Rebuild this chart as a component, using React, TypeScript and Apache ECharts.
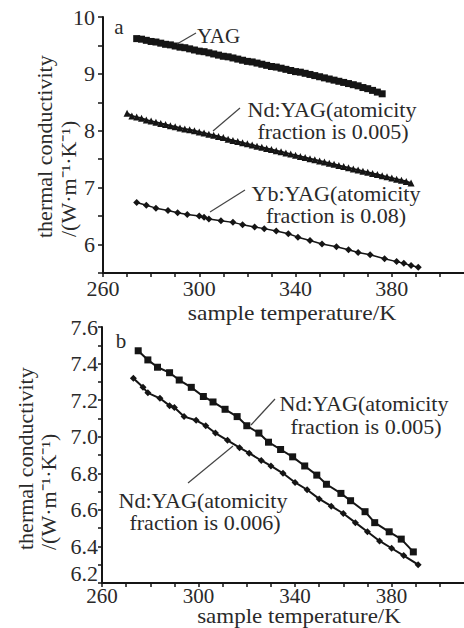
import React, { useEffect, useRef } from "react";
import * as echarts from "echarts";

// Panel a: thermal conductivity vs sample temperature
const yagA: number[][] = [
  [274, 9.62], [276, 9.61], [278, 9.59], [280, 9.57], [282, 9.56], [284, 9.54], [286, 9.52], [288, 9.51],
  [290, 9.49], [292, 9.47], [294, 9.46], [296, 9.44], [298, 9.42], [300, 9.40], [302, 9.39], [304, 9.37],
  [306, 9.35], [308, 9.33], [310, 9.31], [312, 9.30], [314, 9.28], [316, 9.26], [318, 9.24], [320, 9.22],
  [322, 9.21], [324, 9.19], [326, 9.17], [328, 9.15], [330, 9.13], [332, 9.12], [334, 9.10], [336, 9.08],
  [338, 9.06], [340, 9.04], [342, 9.03], [344, 9.01], [346, 8.99], [348, 8.97], [350, 8.95], [352, 8.93],
  [354, 8.91], [356, 8.89], [358, 8.87], [360, 8.85], [362, 8.83], [364, 8.81], [366, 8.79], [368, 8.76],
  [370, 8.74], [372, 8.71], [374, 8.68], [376, 8.65],
];
const ndA: number[][] = [
  [270, 8.31], [272, 8.26], [274, 8.24], [276, 8.22], [278, 8.19], [280, 8.17], [282, 8.15], [284, 8.13],
  [286, 8.11], [288, 8.09], [290, 8.07], [292, 8.05], [294, 8.03], [296, 8.02], [298, 8.00], [300, 7.98],
  [302, 7.96], [304, 7.94], [306, 7.92], [308, 7.90], [310, 7.88], [312, 7.85], [314, 7.83], [316, 7.81],
  [318, 7.79], [320, 7.77], [322, 7.75], [324, 7.73], [326, 7.71], [328, 7.69], [330, 7.67], [332, 7.65],
  [334, 7.63], [336, 7.61], [338, 7.59], [340, 7.57], [342, 7.55], [344, 7.53], [346, 7.51], [348, 7.49],
  [350, 7.47], [352, 7.45], [354, 7.43], [356, 7.41], [358, 7.39], [360, 7.37], [362, 7.35], [364, 7.33],
  [366, 7.31], [368, 7.29], [370, 7.27], [372, 7.25], [374, 7.23], [376, 7.21], [378, 7.19], [380, 7.17],
  [382, 7.15], [384, 7.13], [386, 7.11], [388, 7.08],
];
const ybA: number[][] = [
  [274, 6.74], [278, 6.69], [282, 6.64], [287, 6.60], [291, 6.56], [295, 6.53], [300, 6.50], [302, 6.48],
  [304, 6.45], [309, 6.42], [314, 6.39], [318, 6.35], [323, 6.31], [327, 6.28], [332, 6.24], [337, 6.19],
  [341, 6.13], [346, 6.07], [351, 6.01], [357, 5.96], [362, 5.91], [366, 5.86], [371, 5.82], [377, 5.75],
  [382, 5.70], [385, 5.67], [388, 5.63], [391, 5.60],
];

// Panel b
const nd005B: number[][] = [
  [275, 7.47], [279, 7.42], [283, 7.38], [288, 7.35], [292, 7.31], [297, 7.27], [302, 7.22], [306, 7.19],
  [311, 7.15], [316, 7.11], [320, 7.06], [325, 7.02], [329, 6.97], [334, 6.93], [339, 6.89], [344, 6.84],
  [349, 6.79], [353, 6.74], [359, 6.69], [363, 6.65], [369, 6.59], [373, 6.53], [379, 6.48], [384, 6.44],
  [389, 6.37],
];
const nd006B: number[][] = [
  [273, 7.32], [277, 7.27], [279, 7.24], [284, 7.21], [288, 7.17], [290, 7.16], [294, 7.11], [299, 7.09],
  [303, 7.06], [307, 7.02], [312, 6.98], [317, 6.94], [321, 6.91], [326, 6.87], [330, 6.84], [335, 6.80],
  [340, 6.75], [345, 6.71], [350, 6.66], [355, 6.62], [360, 6.58], [365, 6.53], [370, 6.48], [375, 6.43],
  [380, 6.39], [385, 6.35], [391, 6.30],
];

const xLabelValues = [260, 300, 340, 380];
const xName = "sample temperature/K";
const yName1 = "thermal conductivity";
const yName2 = "/(W·m⁻¹·K⁻¹)";

const FONT = '"Liberation Serif", "Times New Roman", serif';
const INK = "#151515";
const TXT = "#2a2a2a";

function text(x: number, y: number, t: string, align: string, size = 22, extra: any = {}) {
  return {
    type: "text",
    x,
    y,
    z: 100,
    ...extra,
    style: {
      text: t,
      fill: TXT,
      fontSize: size,
      fontFamily: FONT,
      align,
      verticalAlign: "middle",
      textAlign: align,
      textVerticalAlign: "middle",
    },
  };
}
function pline(x1: number, y1: number, x2: number, y2: number) {
  return { type: "line", z: 100, shape: { x1, y1, x2, y2 }, style: { stroke: "#444", lineWidth: 1.2 } };
}

export default function App() {
  const ref = useRef<HTMLDivElement>(null);
  useEffect(() => {
    document.body.style.margin = "0";
    const chart = echarts.init(ref.current!, null, { renderer: "svg" });
    const xAxisBase = (gridIndex: number, margin: number, size: number) => ({
      type: "value",
      gridIndex,
      min: 260,
      max: 410,
      interval: 10,
      axisLine: { lineStyle: { color: INK, width: 2 } },
      axisTick: { show: true, length: 4, lineStyle: { color: INK, width: 1.5 } },
      splitLine: { show: false },
      axisLabel: {
        margin,
        color: TXT,
        fontSize: size,
        fontFamily: FONT,
        showMaxLabel: false,
        formatter: (v: number) => (xLabelValues.indexOf(Math.round(v)) >= 0 ? String(Math.round(v)) : ""),
      },
    });
    const series = (data: number[][], xi: number, symbol: string, size: number, lw: number) => ({
      type: "line",
      xAxisIndex: xi,
      yAxisIndex: xi,
      data,
      symbol,
      symbolSize: size,
      showSymbol: true,
      lineStyle: { color: INK, width: lw },
      itemStyle: { color: INK },
      silent: true,
    });
    const sx = { scaleX: 1.05 };
    chart.setOption({
      animation: false,
      backgroundColor: "#ffffff",
      grid: [
        { left: 103, top: 17, width: 362.5, height: 256 },
        { left: 102, top: 327, width: 372.5, height: 256 },
      ],
      xAxis: [xAxisBase(0, 4, 22), xAxisBase(1, 2, 21)],
      yAxis: [
        {
          type: "value",
          gridIndex: 0,
          min: 5.5,
          max: 10,
          interval: 0.5,
          axisLine: { show: true, lineStyle: { color: INK, width: 2 } },
          axisTick: { show: true, length: 5, lineStyle: { color: INK, width: 1.5 } },
          splitLine: { show: false },
          axisLabel: {
            margin: 8,
            color: TXT,
            fontSize: 22,
            fontFamily: FONT,
            formatter: (v: number) => (Math.abs(v - Math.round(v)) < 1e-6 ? String(Math.round(v)) : ""),
          },
        },
        {
          type: "value",
          gridIndex: 1,
          min: 6.2,
          max: 7.6,
          interval: 0.1,
          axisLine: { show: true, lineStyle: { color: INK, width: 2 } },
          axisTick: { show: true, length: 4, lineStyle: { color: INK, width: 1.5 } },
          splitLine: { show: false },
          axisLabel: {
            margin: 4,
            color: TXT,
            fontSize: 22,
            fontFamily: FONT,
            formatter: (v: number) => {
              const r = Math.round(v * 10);
              if (r % 2 !== 0) return "";
              const s = (r / 10).toFixed(1);
              return r === 62 ? "{lo|" + s + "}" : s;
            },
            rich: {
              lo: { fontSize: 22, fontFamily: FONT, color: TXT, padding: [0, 0, 20, 0] },
            },
          },
        },
      ],
      series: [
        series(yagA, 0, "rect", 7, 3),
        series(ndA, 0, "triangle", 7, 2),
        series(ybA, 0, "diamond", 7, 1.5),
        series(nd005B, 1, "rect", 7, 2),
        series(nd006B, 1, "diamond", 7, 2),
      ],
      graphic: [
        // panel labels
        text(119, 27, "a", "center", 21),
        text(121, 341, "b", "center", 21),
        // axis names panel a
        text(292, 313, xName, "center", 22, { scaleX: 1.07 }),
        text(44, 238, yName1, "left", 22, { rotation: Math.PI / 2 }),
        text(68, 237, yName2, "left", 22, { rotation: Math.PI / 2 }),
        // axis names panel b
        text(299, 617, xName, "center", 20, { scaleX: 1.15 }),
        text(25, 550, yName1, "left", 22, { rotation: Math.PI / 2 }),
        text(48, 550, yName2, "left", 22, { rotation: Math.PI / 2 }),
        // annotations panel a
        pline(177, 44, 196, 33),
        text(197, 36, "YAG", "left", 21),
        pline(213, 131, 240, 108),
        text(332, 110, "Nd:YAG(atomicity", "center", 21, sx),
        text(333, 132, "fraction is 0.005)", "center", 21, sx),
        pline(210, 212, 245, 190),
        text(336, 194, "Yb:YAG(atomicity", "center", 21, sx),
        text(336, 216, "fraction is 0.08)", "center", 21, sx),
        // annotations panel b
        pline(251, 425, 275, 399),
        text(364, 404, "Nd:YAG(atomicity", "center", 21, sx),
        text(366, 427, "fraction is 0.005)", "center", 21, sx),
        pline(188, 483, 233, 446),
        text(203, 501, "Nd:YAG(atomicity", "center", 21, sx),
        text(205, 523, "fraction is 0.006)", "center", 21, sx),
      ],
    });
    return () => chart.dispose();
  }, []);
  return <div ref={ref} style={{ width: 464, height: 628 }} />;
}
